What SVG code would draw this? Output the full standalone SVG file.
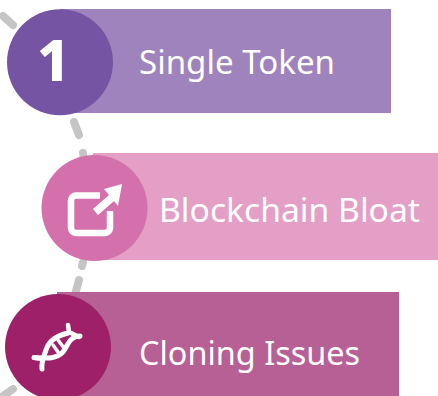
<svg xmlns="http://www.w3.org/2000/svg" width="438" height="396" viewBox="0 0 438 396">
<style>
.t{font-family:"Noto Sans","Open Sans",sans-serif;font-size:33px;font-weight:400;fill:#fff}
.n{font-family:"Noto Sans","Open Sans",sans-serif;font-size:57px;font-weight:800;fill:#fff}
.c{fill:none;stroke:#c4c5c4;stroke-width:8;stroke-linecap:round}
.w{fill:#fff}
</style>
<rect width="438" height="396" fill="#fff"/>
<g id="connectors">
<path class="c" d="M3 16L13 25"/>
<path class="c" d="M74 122L79 135"/>
<path class="c" d="M83 153L84 160"/>
<path class="c" d="M83 262L82 266"/>
<path class="c" d="M79 280L74 298"/>
<path class="c" d="M13 389L3 396"/>
</g>
<g id="node1">
<rect x="60" y="9" width="331" height="104" fill="#9f83bd"/>
<circle cx="60" cy="62.200" r="53" fill="#7555a3"/>
<text class="n" x="37" y="81">1</text>
<text class="t" x="139" y="74" textLength="196" lengthAdjust="spacingAndGlyphs">Single Token</text>
</g>
<g id="node2">
<rect x="93" y="153" width="345" height="107" fill="#e39fc6"/>
<circle cx="94.500" cy="208" r="53" fill="#d471ad"/>
<path fill="none" stroke="#fff" stroke-width="6.500" stroke-linejoin="round" d="M100 195.500H76A5 5 0 0 0 71 200.500V228A5 5 0 0 0 76 233H105A5 5 0 0 0 110 228V211"/>
<path class="w" d="M122 184L104 189L109 195L93 209L98 215L114 201L118 206Z"/>
<text class="t" x="159" y="222" textLength="261" lengthAdjust="spacingAndGlyphs">Blockchain Bloat</text>
</g>
<g id="node3">
<rect x="57" y="292" width="342" height="104" fill="#b66095"/>
<circle cx="58" cy="347" r="53" fill="#9e2068"/>
<g fill="none" stroke="#fff" stroke-linecap="round">
<path stroke-width="5" d="M68 333C57 336 49 340 46 350C44 357 41 361 42 369"/>
<path stroke-width="5" d="M34 357.500C45 358 55 360 63 352C68 345 70 336 80 336"/>
<path stroke-width="3.500" d="M53 345L58 352M58 340L64 348"/>
<path stroke-width="4.500" d="M68 325L69 332L79 337"/>
<path stroke-width="4.500" d="M35 358L43 359"/>
</g>
<text class="t" x="139" y="365" textLength="221" lengthAdjust="spacingAndGlyphs">Cloning Issues</text>
</g>
</svg>
